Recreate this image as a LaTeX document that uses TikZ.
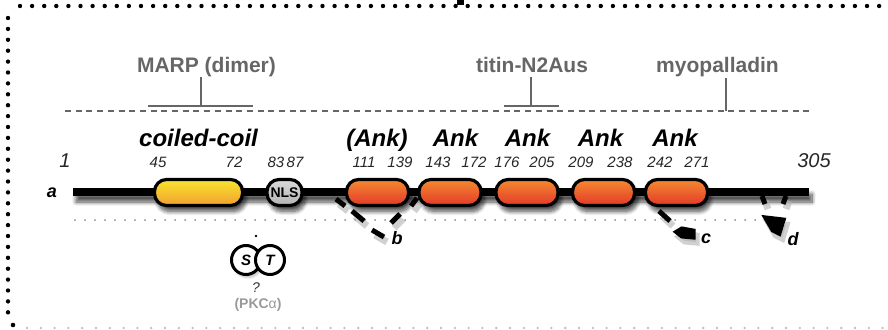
\documentclass[tikz,border=0pt]{standalone}
\usepackage{fontspec}
\setmainfont{Liberation Sans}
\usetikzlibrary{shadows.blur}

\definecolor{ccTop}{HTML}{F8E42E}
\definecolor{ccBot}{HTML}{F2A02F}
\definecolor{ankTop}{HTML}{F48A30}
\definecolor{ankBot}{HTML}{E4382A}
\definecolor{nlsTop}{HTML}{DADADA}
\definecolor{nlsBot}{HTML}{B4B4B4}
\definecolor{partner}{HTML}{666666}

\newcommand{\fs}[1]{\fontsize{#1pt}{#1pt}\selectfont}

% thick dashes marking the b, c and d variants
\newcommand{\variantcuts}[1]{%
  \draw[#1] (336,199) -- (345,206);
  \draw[#1] (352,211) -- (364,221);
  \draw[#1] (372,230) -- (384,237);
  \draw[#1] (391,223) -- (400,214);
  \draw[#1] (411,206) -- (417,198);
  \draw[#1] (659,211) -- (670,221);
  \fill[#1] (677,232) -- (682,229) -- (693,231) -- (693,237) -- (682,236) -- cycle;
  \draw[#1] (762,196) -- (765,204);
  \draw[#1] (786,196) -- (783,204);
  \fill[#1] (766,218) -- (783,220) -- (779,233) -- (773,230) -- cycle;
}

\tikzset{
  softshadow/.style={blur shadow={shadow xshift=3pt, shadow yshift=-6pt,
    shadow opacity=70, shadow blur steps=10, shadow blur radius=4pt}},
  dom/.style={rounded corners=12pt, line width=3.2pt, draw=black, minimum height=26pt,
    inner sep=0pt, softshadow},
  ccbox/.style={dom, minimum width=88pt, top color=ccTop, bottom color=ccBot},
  ankbox/.style={dom, minimum width=62pt, top color=ankTop, bottom color=ankBot},
  nlsbox/.style={dom, minimum width=35pt, top color=nlsTop, bottom color=nlsBot,
    font=\bfseries\fs{14}},
  partnertext/.style={font=\bfseries\fs{21}, text=partner, anchor=base, inner sep=0pt},
  partnerline/.style={line width=2.5pt, draw=partner},
  domtitle/.style={font=\bfseries\itshape\fs{24}, anchor=base, inner sep=0pt},
  resnum/.style={font=\itshape\fs{15}, anchor=base, inner sep=0pt, text=black!85},
  endnum/.style={font=\itshape\fs{20}, anchor=base, inner sep=0pt, text=black!85},
  variant/.style={font=\bfseries\itshape\fs{18}, anchor=base, inner sep=0pt},
  site/.style={circle, draw=black, line width=3pt, fill=white, minimum size=29pt,
    inner sep=0pt, font=\bfseries\itshape\fs{15}},
  borderdot/.style={fill=black},
}

\begin{document}
\begin{tikzpicture}[x=1pt, y=-1pt]
\useasboundingbox (0,0) rectangle (888,329);

% dotted frame
\foreach \i in {0,...,72} \fill[borderdot] (20+12.1*\i,6) circle (2.2pt);
\foreach \i in {0,...,27} \fill[borderdot] (8,18+10.9*\i) circle (2.2pt);
\fill[borderdot] (13,325) circle (2.3pt);
\foreach \i in {0,...,62} \fill[black!25] (27+13.8*\i,328) circle (1.3pt);
\fill[black] (457,0) rectangle (464,5);

% binding partners
\draw[partnerline, line width=1.9pt, dash pattern=on 6pt off 4.7pt] (65,111) coordinate (dl) -- (812,111) coordinate (dr);
\node[partnertext] (marp) at (206.5,73) {MARP (dimer)};
\node[partnertext] (titin) at (532,73) {titin-N2Aus};
\node[partnertext] (myop) at (717.5,73) {myopalladin};
\coordinate (marpL) at (148,106); \coordinate (marpR) at (253,106);
\coordinate (marpT) at (201,77);  \coordinate (marpB) at (201,106);
\coordinate (titL) at (504,106);  \coordinate (titR) at (559,106);
\coordinate (titT) at (531,77);   \coordinate (titB) at (531,106);
\coordinate (myT) at (726,78);    \coordinate (myB) at (726,111);
\draw[partnerline] (marpL) -- (marpR) (marpT) -- (marpB);
\draw[partnerline] (titL) -- (titR) (titT) -- (titB);
\draw[partnerline] (myT) -- (myB);

% domain titles
\node[domtitle] (tcc) at (198.5,146) {coiled-coil};
\node[domtitle] (ta1) at (377,146) {(Ank)};
\node[domtitle] (ta2) at (455.5,146) {Ank};
\node[domtitle] (ta3) at (527.5,146) {Ank};
\node[domtitle] (ta4) at (600.5,146) {Ank};
\node[domtitle] (ta5) at (675,146) {Ank};

% residue numbers
\node[endnum] (n1) at (65,167) {1};
\node[endnum] (n305) at (814,167) {305};
\node[resnum] (n45) at (158,167) {45};
\node[resnum] (n72) at (234,167) {72};
\node[resnum] (n83) at (285.5,167) {83\,87};
\node[resnum] (n111) at (364,167) {111};
\node[resnum] (n139) at (400,167) {139};
\node[resnum] (n143) at (438,167) {143};
\node[resnum] (n172) at (474,167) {172};
\node[resnum] (n176) at (507,167) {176};
\node[resnum] (n205) at (542,167) {205};
\node[resnum] (n209) at (581,167) {209};
\node[resnum] (n238) at (620,167) {238};
\node[resnum] (n242) at (660,167) {242};
\node[resnum] (n271) at (697,167) {271};

% lower dotted guide
\draw[black!45, line width=2pt, line cap=round, dash pattern=on 0pt off 10pt] (75,220) coordinate (gl) -- (794,220) coordinate (gr);

% protein backbone
\node[fill=black, minimum width=736pt, minimum height=8pt, inner sep=0pt, softshadow]
  (backbone) at (441,192) {};
\node[variant] (la) at (52,197) {a};

% domains
\node[ccbox] (cc) at (198.5,192.5) {};
\node[nlsbox] (nls) at (284.5,192.5) {NLS};
\node[ankbox] (ank1) at (377.5,192.5) {};
\node[ankbox] (ank2) at (450,192.5) {};
\node[ankbox] (ank3) at (527,192.5) {};
\node[ankbox] (ank4) at (603.5,192.5) {};
\node[ankbox] (ank5) at (676.5,192.5) {};

% variant cuts with their soft shadow
\begin{scope}[xshift=3pt, yshift=-5pt]
  \variantcuts{draw=black!30, fill=black!30, line width=7pt, opacity=0.6}
\end{scope}
\variantcuts{draw=black, fill=black, line width=5pt}
\node[variant] (lb) at (397,244) {b};
\node[variant] (lc) at (706,243) {c};
\node[variant] (ld) at (793,245) {d};

% phosphorylation site
\fill[black] (256,236) circle (1.3pt);
\node[site, blur shadow={shadow xshift=2pt, shadow yshift=-3pt, shadow opacity=25}] (s) at (246,260) {S};
\node[site] (t) at (270,260) {T};
\node[font=\itshape\fs{14}, text=black!80, anchor=base, inner sep=0pt] (q) at (256,292) {?};
\node[font=\bfseries\fs{14}, text=black!40, anchor=base, inner sep=0pt] (pkc) at (258,308) {(PKC{\mdseries α})};
\end{tikzpicture}
\end{document}
